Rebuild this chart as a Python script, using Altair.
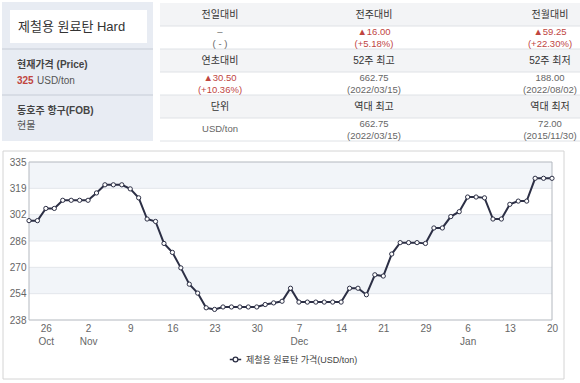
import altair as alt
import pandas as pd

# ---------------- data ----------------
prices = [299, 299, 306.5, 306.5, 311.5, 311.5, 311.5, 311.5, 316, 321, 321, 321,
          318.5, 313, 300, 298.5, 285, 279.5, 270, 260, 254.5, 245.5, 244.5, 246,
          246, 246, 246, 246, 247.5, 248.5, 249.5, 257.5, 249, 249, 249, 249, 249,
          249, 257.5, 257.5, 253.5, 265.75, 265, 278.5, 285.5, 285.5, 285.5, 285,
          294.5, 294.5, 301.5, 304.5, 313.5, 313.5, 313, 300, 300, 309, 311, 311,
          325, 325, 325]
holidays = ["2022-12-26", "2023-01-02"]
tick_dates = ["2022-10-26", "2022-11-02", "2022-11-09", "2022-11-16", "2022-11-23",
              "2022-11-30", "2022-12-07", "2022-12-14", "2022-12-21", "2022-12-29",
              "2023-01-06", "2023-01-13", "2023-01-20"]
tick_days = ["26", "2", "9", "16", "23", "30", "7", "14", "21", "29", "6", "13", "20"]
tick_months = ["Oct", "Nov", "", "", "", "", "Dec", "", "", "", "Jan", "", ""]
y_min, y_max = 238, 335
y_labels = ["238", "254", "270", "286", "302", "319", "335"]
series_name = "제철용 원료탄 가격(USD/ton)"

title_text = "제철용 원료탄 Hard"
price_label = "현재가격 (Price)"
price_value = "325"
price_unit = "USD/ton"
market_label = "동호주 항구(FOB)"
market_value = "현물"
headers = [["전일대비", "전주대비", "전월대비"],
           ["연초대비", "52주 최고", "52주 최저"],
           ["단위", "역대 최고", "역대 최저"]]
cells = [[["–", "( - )"], ["▲16.00", "(+5.18%)"], ["▲59.25", "(+22.30%)"]],
         [["▲30.50", "(+10.36%)"], ["662.75", "(2022/03/15)"], ["188.00", "(2022/08/02)"]],
         [["USD/ton"], ["662.75", "(2022/03/15)"], ["72.00", "(2015/11/30)"]]]

# ---------------- build ----------------
dates = [d for d in pd.bdate_range("2022-10-24", "2023-01-20").strftime("%Y-%m-%d")
         if d not in holidays]
df = pd.DataFrame({"i": range(len(dates)), "date": dates, "price": prices,
                   "series": series_name})
tick_idx = [dates.index(d) for d in tick_dates]

step = (y_max - y_min) / 6
y_ticks = [y_min + k * step for k in range(7)]

FONT = "Liberation Sans, Noto Sans CJK KR"
W, H = 523, 158
OX, OY = 29, 162
one = alt.Data(values=[{"k": 0}])
RED = "#c0453f"

# label expressions
parts = []
for ix, d, m in zip(tick_idx, tick_days, tick_months):
    if m:
        parts.append(f"datum.value == {ix} ? ['{d}', '{m}']")
    else:
        parts.append(f"datum.value == {ix} ? '{d}'")
x_label_expr = " : ".join(parts) + " : ''"
y_label_expr = "[" + ",".join(f"'{s}'" for s in y_labels) + f"][round((datum.value - {y_min}) / {step})]"


def box(x1, y1, x2, y2, fill="transparent", stroke=None, sw=1):
    kw = dict(fill=fill)
    if stroke:
        kw.update(stroke=stroke, strokeWidth=sw)
    return alt.Chart(one).mark_rect(**kw).encode(
        x=alt.value(x1 - OX), x2=alt.value(x2 - OX),
        y=alt.value(y1 - OY), y2=alt.value(y2 - OY))


def hline(x1, x2, y, color):
    return alt.Chart(one).mark_rule(color=color, strokeWidth=1).encode(
        x=alt.value(x1 - OX), x2=alt.value(x2 - OX), y=alt.value(y - OY))


def label(text, x, y, size=10, color="#333", align="center", weight="normal"):
    return alt.Chart(one).mark_text(
        text=text, align=align, baseline="middle", fontSize=size, color=color,
        font=FONT, fontWeight=weight).encode(
        x=alt.value(x - OX), y=alt.value(y - OY))


y_scale = alt.Scale(domain=[y_min, y_max], nice=False, zero=False)
y_axis = alt.Axis(values=y_ticks, labelExpr=y_label_expr, title=None, grid=False,
                  domain=False, ticks=False, labelFont=FONT, labelFontSize=10,
                  labelColor="#666", labelPadding=3, zindex=1, labelFlush=False,
                  labelOverlap=False)

layers = []
# outer chart frame
layers.append(box(3, 151, 564, 379, fill="white", stroke="#d4d4d4"))
# left panel
layers.append(box(2, 2, 153, 141, fill="#e8ecf3"))
layers.append(box(10, 10, 147, 43, fill="white"))
layers.append(hline(2, 153, 49, "#c6ccd6"))
layers.append(hline(2, 153, 95, "#c6ccd6"))
layers.append(label(title_text, 18, 27, size=13, color="#333", align="left"))
layers.append(label(price_label, 17, 65, size=10, color="#444", align="left", weight="bold"))
layers.append(label(price_value, 17, 81, size=10, color=RED, align="left", weight="bold"))
layers.append(label(price_unit, 37, 81, size=10, color="#555", align="left"))
layers.append(label(market_label, 17, 111, size=10, color="#444", align="left", weight="bold"))
layers.append(label(market_value, 17, 126, size=10, color="#555", align="left"))

# right table
row_tops = [3, 49, 95]
for t in row_tops:
    layers.append(box(160, t, 580, t + 23, fill="#f3f4f6"))
for yy in [26, 49, 72, 95, 118, 141]:
    layers.append(hline(160, 580, yy, "#dfe2e6"))
col_x = [220, 374, 550]
for r, t in enumerate(row_tops):
    for c in range(3):
        layers.append(label(headers[r][c], col_x[c], t + 12, size=10, color="#333"))
        lines = cells[r][c]
        color = RED if lines[0].startswith("▲") else "#666"
        if len(lines) == 1:
            layers.append(label(lines[0], col_x[c], t + 34, size=9.5, color=color))
        else:
            layers.append(label(lines[0], col_x[c], t + 28.5, size=9.5, color=color))
            layers.append(label(lines[1], col_x[c], t + 40.5, size=9.5, color=color))

# plot bands and grid
bands = pd.DataFrame({"lo": [y_ticks[1], y_ticks[3], y_ticks[5]],
                      "hi": [y_ticks[2], y_ticks[4], y_ticks[6]]})
layers.append(alt.Chart(bands).mark_rect(fill="#f2f5f9").encode(
    y=alt.Y("lo:Q", scale=y_scale, axis=y_axis), y2="hi:Q", x=alt.value(0), x2=alt.value(W)))
grid = pd.DataFrame({"v": y_ticks[1:-1]})
layers.append(alt.Chart(grid).mark_rule(color="#e3e6eb", strokeWidth=1).encode(
    y=alt.Y("v:Q", scale=y_scale, axis=y_axis), x=alt.value(0), x2=alt.value(W)))
# plot frame
layers.append(alt.Chart(one).mark_rect(fill="transparent", stroke="#b3b8bf", strokeWidth=1).encode(
    x=alt.value(0), x2=alt.value(W), y=alt.value(0), y2=alt.value(H)))

x_enc = alt.X("i:Q", scale=alt.Scale(domain=[0, len(dates) - 1], nice=False, zero=False),
              axis=alt.Axis(values=tick_idx, labelExpr=x_label_expr, title=None, grid=False,
                            domain=False, ticks=False, labelFont=FONT, labelFontSize=10,
                            labelColor="#666", labelPadding=3, labelLineHeight=13,
                            labelBaseline="top", zindex=1, labelFlush=False,
                            labelOverlap=False))
y_enc = alt.Y("price:Q", scale=y_scale, axis=y_axis)

LINE = "#2c2f45"
sym = "M-1,0H-0.42M0.42,0H1M-0.42,0A0.42,0.42,0,1,1,0.42,0A0.42,0.42,0,1,1,-0.42,0"
line = alt.Chart(df).mark_line(strokeWidth=2).encode(
    x=x_enc, y=y_enc,
    color=alt.Color("series:N", scale=alt.Scale(range=[LINE]),
                    legend=alt.Legend(orient="none", legendX=200, legendY=191, title=None,
                                      symbolType=sym, symbolSize=130, symbolStrokeWidth=1.3,
                                      symbolFillColor="white", labelFont=FONT,
                                      labelFontSize=9, labelColor="#444", padding=0)))
points = alt.Chart(df).mark_point(filled=True, fill="white", stroke=LINE, strokeWidth=1,
                                  size=18, opacity=1).encode(
    x="i:Q", y=y_enc, tooltip=["date:N", "price:Q"])
layers += [line, points]

chart = alt.layer(*layers).properties(
    width=W, height=H,
    autosize=alt.AutoSizeParams(type="none"),
    padding={"left": OX, "top": OY, "right": 580 - OX - W, "bottom": 383 - OY - H},
    background="white",
).configure_view(strokeWidth=0)

chart.save("out.html", embed_options={"renderer": "svg", "actions": False})
